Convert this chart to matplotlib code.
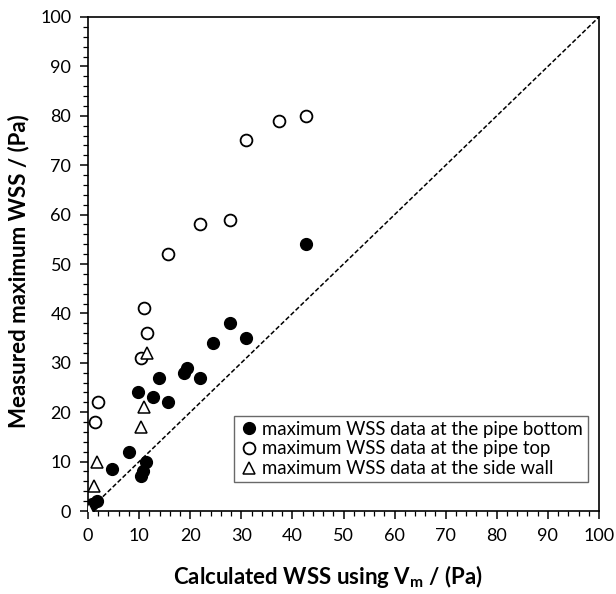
import numpy as np
import matplotlib.pyplot as plt
from matplotlib.ticker import MultipleLocator

plt.rcParams['font.family'] = ['Lato', 'DejaVu Sans']

# pipe bottom (filled circles)
bottom_x = [0.0, 0.1, 0.7, 1.7, 4.6, 8.0, 10.4, 10.8, 11.3, 9.7, 12.7, 13.8, 15.7,
            18.8, 19.3, 22.0, 24.5, 27.8, 31.0, 42.7]
bottom_y = [0.5, 1.0, 1.5, 2.0, 8.5, 12.0, 7.0, 8.0, 10.0, 24.0, 23.0, 27.0, 22.0,
            28.0, 29.0, 27.0, 34.0, 38.0, 35.0, 54.0]

# pipe top (open circles)
top_x = [1.4, 1.9, 10.3, 11.5, 11.0, 15.7, 22.0, 27.8, 31.0, 37.3, 42.7]
top_y = [18.0, 22.0, 31.0, 36.0, 41.0, 52.0, 58.0, 59.0, 75.0, 79.0, 80.0]

# side wall (open triangles)
side_x = [0.2, 1.2, 1.8, 10.3, 10.9, 11.5]
side_y = [0.5, 5.0, 10.0, 17.0, 21.0, 32.0]

fig = plt.figure(figsize=(6.16, 5.94), dpi=100)
ax = fig.add_axes([0.1429, 0.1397, 0.8295, 0.8317])

ax.plot([0, 100], [0, 100], color='black', linestyle=(0, (3, 1.5)), linewidth=1.1, zorder=1)

ax.plot(bottom_x, bottom_y, 'o', color='black', markersize=8.5, linestyle='none',
        label='maximum WSS data at the pipe bottom', zorder=3)
ax.plot(top_x, top_y, 'o', markerfacecolor='white', markeredgecolor='black',
        markeredgewidth=1.3, markersize=8.5, linestyle='none',
        label='maximum WSS data at the pipe top', zorder=3)
ax.plot(side_x, side_y, '^', markerfacecolor='white', markeredgecolor='black',
        markeredgewidth=1.1, markersize=9, linestyle='none',
        label='maximum WSS data at the side wall', zorder=3)

ax.set_xlim(0, 100)
ax.set_ylim(0, 100)
ax.xaxis.set_major_locator(MultipleLocator(10))
ax.yaxis.set_major_locator(MultipleLocator(10))
ax.xaxis.set_minor_locator(MultipleLocator(2))
ax.yaxis.set_minor_locator(MultipleLocator(2))
ax.tick_params(which='major', direction='out', length=6, width=1.1, labelsize=13, pad=6)
ax.tick_params(which='minor', direction='out', length=3.5, width=0.9)
for s in ax.spines.values():
    s.set_linewidth(1.2)

ax.set_xlabel('Calculated WSS using V$_\\mathregular{m}$ / (Pa)', fontsize=16,
              fontweight='bold')
ax.set_ylabel('Measured maximum WSS / (Pa)', fontsize=16, fontweight='bold')
ax.xaxis.set_label_coords(0.47, -0.106)
ax.yaxis.set_label_coords(-0.115, 0.486)

leg = ax.legend(loc='lower right', bbox_to_anchor=(0.978, 0.059), fontsize=13.4,
                frameon=True, fancybox=False, edgecolor='#444444',
                handletextpad=0.1, handlelength=1.2, borderpad=0.25,
                labelspacing=0.15, borderaxespad=0)
leg.get_frame().set_linewidth(1.0)

fig.savefig('out.png', dpi=100)
